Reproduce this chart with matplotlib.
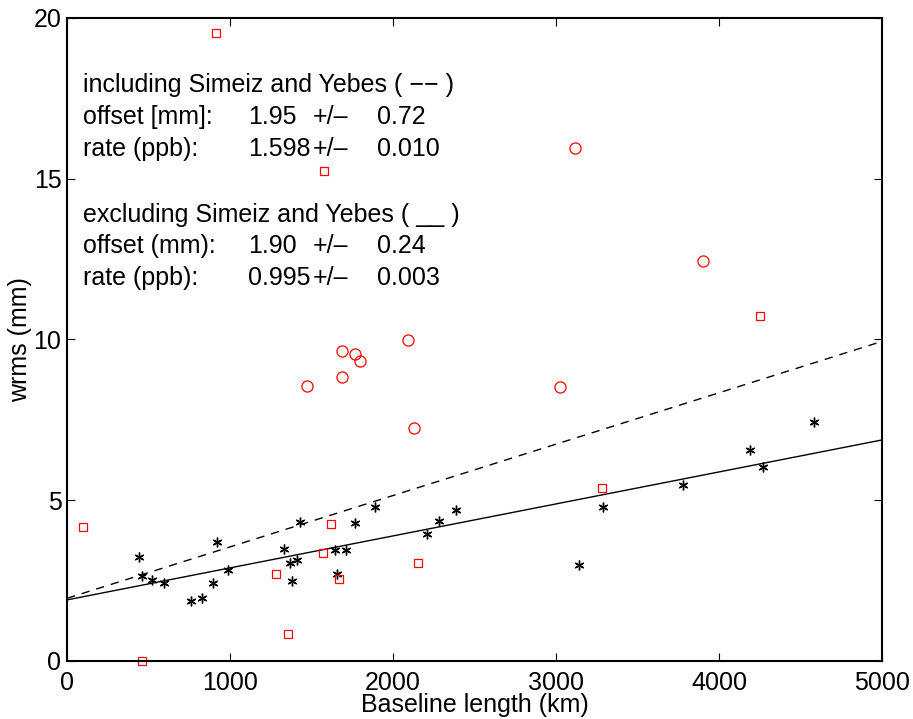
#!/usr/bin/env python3

import numpy as np
import matplotlib.pyplot as plt

# baseline length (km) / wrms (mm)

# baselines without Simeiz and Yebes (black asterisks)
blackX = [444, 457, 523, 596, 758, 831, 895, 921, 990, 1334, 1369, 1413, 1381,
          1430, 1644, 1654, 1712, 1765, 1890, 2206, 2279, 2388, 3143, 3286,
          3779, 4191, 4269, 4583]
blackY = [3.24, 2.63, 2.51, 2.44, 1.88, 1.96, 2.42, 3.70, 2.82, 3.47, 3.05, 3.14,
          2.49, 4.31, 3.46, 2.72, 3.46, 4.28, 4.78, 3.96, 4.35, 4.69, 2.98, 4.80,
          5.48, 6.56, 6.04, 7.42]

# red squares
squareX = [96, 457, 1285, 1354, 1573, 1618, 1669, 2155, 3282, 1575, 913, 4250]
squareY = [4.17, 0.0, 2.69, 0.83, 3.35, 4.25, 2.54, 3.06, 5.38, 15.23, 19.53, 10.74]

# red circles
circleX = [3119, 3899, 1473, 1685, 1767, 1799, 1685, 2094, 3025, 2130]
circleY = [15.96, 12.43, 8.56, 9.63, 9.55, 9.32, 8.84, 9.97, 8.53, 7.25]

# fit results: offset (mm), rate (mm per 1000 km = ppb)
offsetIncl, rateIncl = 1.95, 1.598
offsetExcl, rateExcl = 1.90, 0.995

textRows = [
    ("including Simeiz and Yebes ( \u2212\u2212 )", None, None, None),
    ("offset [mm]:", "1.95", "+/\u2013", "0.72"),
    ("rate (ppb):", "1.598", "+/\u2013", "0.010"),
    ("excluding Simeiz and Yebes ( __ )", None, None, None),
    ("offset (mm):", "1.90", "+/\u2013", "0.24"),
    ("rate (ppb):", "0.995", "+/\u2013", "0.003"),
]
textYs = [17.92, 16.92, 15.92, 13.87, 12.9, 11.92]

plt.rcParams['font.family'] = ['Liberation Sans', 'DejaVu Sans']

fig = plt.figure(figsize=(9.13, 7.19), dpi=100)
ax = fig.add_axes([0.0734, 0.0807, 0.8927, 0.8943])

xs = np.array([0, 5000])
ax.plot(xs, offsetIncl + rateIncl * xs / 1000, color='black', lw=1, ls=(0, (6, 5)))
ax.plot(xs, offsetExcl + rateExcl * xs / 1000, color='black', lw=1)

ax.plot(blackX, blackY, ls='none', marker=(6, 2, 0), ms=7, mew=1.0, color='black',
        clip_on=False)
ax.plot(squareX, squareY, ls='none', marker='s', ms=6, mew=0.9, mfc='none',
        mec='red', clip_on=False)
ax.plot(circleX, circleY, ls='none', marker='o', ms=8, mew=0.9, mfc='none',
        mec='red', clip_on=False)

colX = [100, 1110, 1510, 1900]
for row, y in zip(textRows, textYs):
    for i, s in enumerate(row):
        if s is not None:
            ax.text(colX[i], y, s, fontsize=18, va='center', ha='left')

ax.set_xlim(0, 5000)
ax.set_ylim(0, 20)
ax.set_xticks([0, 1000, 2000, 3000, 4000, 5000])
ax.set_yticks([0, 5, 10, 15, 20])
ax.tick_params(direction='in', top=True, right=True, labelsize=18, length=6,
               width=0.8)
ax.tick_params(axis='x', pad=7)
ax.tick_params(axis='y', pad=4)
for s in ax.spines.values():
    s.set_linewidth(1.5)

ax.set_xlabel('Baseline length (km)', fontsize=18, labelpad=-1)
ax.set_ylabel('wrms (mm)', fontsize=18, labelpad=1)

plt.savefig('out.png')
